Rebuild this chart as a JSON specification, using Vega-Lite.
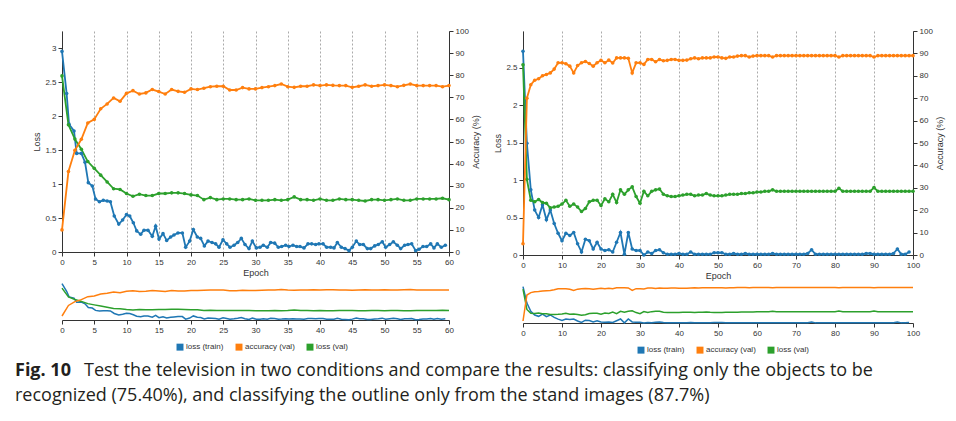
{
"$schema": "https://vega.github.io/schema/vega-lite/v6.json",
"background": "white",
"padding": {"left": 15, "top": 27, "right": 0, "bottom": 0},
"config": {
  "view": {"stroke": null},
  "font": "Liberation Sans",
  "axis": {"labelFont": "Liberation Sans", "titleFont": "Liberation Sans", "labelFontSize": 8, "titleFontSize": 9, "titleFontWeight": "normal", "domainColor": "#333", "tickColor": "#333", "labelColor": "#333", "titleColor": "#333", "tickSize": 4, "labelPadding": 2, "titlePadding": 3, "grid": false, "format": "~f", "labelOverlap": false},
  "legend": {"labelFont": "Liberation Sans"}
},
"datasets": {
"left": [
{"epoch":0,"series":"loss (train)","value":2.95},{"epoch":0.72,"series":"loss (train)","value":2.33},{"epoch":1.09,"series":"loss (train)","value":1.88},{"epoch":1.86,"series":"loss (train)","value":1.78},{"epoch":2.27,"series":"loss (train)","value":1.45},{"epoch":3.0,"series":"loss (train)","value":1.45},{"epoch":3.57,"series":"loss (train)","value":1.32},{"epoch":4.08,"series":"loss (train)","value":1.02},{"epoch":4.7,"series":"loss (train)","value":0.97},{"epoch":5.2,"series":"loss (train)","value":0.78},{"epoch":5.8,"series":"loss (train)","value":0.74},{"epoch":6.4,"series":"loss (train)","value":0.76},{"epoch":7.0,"series":"loss (train)","value":0.75},{"epoch":7.5,"series":"loss (train)","value":0.74},{"epoch":8.1,"series":"loss (train)","value":0.53},{"epoch":8.8,"series":"loss (train)","value":0.41},{"epoch":9.4,"series":"loss (train)","value":0.47},{"epoch":10.0,"series":"loss (train)","value":0.55},{"epoch":10.5,"series":"loss (train)","value":0.53},{"epoch":11.06,"series":"loss (train)","value":0.43},{"epoch":11.58,"series":"loss (train)","value":0.31},{"epoch":12.2,"series":"loss (train)","value":0.26},{"epoch":12.71,"series":"loss (train)","value":0.32},{"epoch":13.33,"series":"loss (train)","value":0.32},{"epoch":14.0,"series":"loss (train)","value":0.23},{"epoch":14.52,"series":"loss (train)","value":0.38},{"epoch":15.04,"series":"loss (train)","value":0.19},{"epoch":15.66,"series":"loss (train)","value":0.27},{"epoch":16.23,"series":"loss (train)","value":0.17},{"epoch":16.85,"series":"loss (train)","value":0.22},{"epoch":17.36,"series":"loss (train)","value":0.25},{"epoch":17.98,"series":"loss (train)","value":0.28},{"epoch":18.66,"series":"loss (train)","value":0.28},{"epoch":19.17,"series":"loss (train)","value":0.07},{"epoch":19.79,"series":"loss (train)","value":0.16},{"epoch":20.36,"series":"loss (train)","value":0.33},{"epoch":20.98,"series":"loss (train)","value":0.22},{"epoch":21.5,"series":"loss (train)","value":0.2},{"epoch":22.07,"series":"loss (train)","value":0.09},{"epoch":22.64,"series":"loss (train)","value":0.16},{"epoch":23.26,"series":"loss (train)","value":0.14},{"epoch":23.82,"series":"loss (train)","value":0.12},{"epoch":24.34,"series":"loss (train)","value":0.07},{"epoch":24.96,"series":"loss (train)","value":0.18},{"epoch":25.53,"series":"loss (train)","value":0.12},{"epoch":26.05,"series":"loss (train)","value":0.07},{"epoch":26.67,"series":"loss (train)","value":0.1},{"epoch":27.24,"series":"loss (train)","value":0.14},{"epoch":27.8,"series":"loss (train)","value":0.2},{"epoch":28.37,"series":"loss (train)","value":0.11},{"epoch":28.99,"series":"loss (train)","value":0.05},{"epoch":29.51,"series":"loss (train)","value":0.16},{"epoch":30.13,"series":"loss (train)","value":0.06},{"epoch":30.7,"series":"loss (train)","value":0.07},{"epoch":31.21,"series":"loss (train)","value":0.1},{"epoch":31.83,"series":"loss (train)","value":0.07},{"epoch":32.35,"series":"loss (train)","value":0.14},{"epoch":32.97,"series":"loss (train)","value":0.13},{"epoch":33.54,"series":"loss (train)","value":0.07},{"epoch":34.06,"series":"loss (train)","value":0.08},{"epoch":34.68,"series":"loss (train)","value":0.1},{"epoch":35.19,"series":"loss (train)","value":0.08},{"epoch":35.81,"series":"loss (train)","value":0.1},{"epoch":36.38,"series":"loss (train)","value":0.08},{"epoch":36.9,"series":"loss (train)","value":0.08},{"epoch":37.52,"series":"loss (train)","value":0.06},{"epoch":38.14,"series":"loss (train)","value":0.12},{"epoch":38.71,"series":"loss (train)","value":0.12},{"epoch":39.33,"series":"loss (train)","value":0.11},{"epoch":39.84,"series":"loss (train)","value":0.12},{"epoch":40.47,"series":"loss (train)","value":0.12},{"epoch":41.03,"series":"loss (train)","value":0.07},{"epoch":41.65,"series":"loss (train)","value":0.07},{"epoch":42.17,"series":"loss (train)","value":0.06},{"epoch":42.69,"series":"loss (train)","value":0.14},{"epoch":43.31,"series":"loss (train)","value":0.07},{"epoch":43.88,"series":"loss (train)","value":0.05},{"epoch":44.5,"series":"loss (train)","value":0.02},{"epoch":45.01,"series":"loss (train)","value":0.07},{"epoch":45.63,"series":"loss (train)","value":0.16},{"epoch":46.15,"series":"loss (train)","value":0.11},{"epoch":46.72,"series":"loss (train)","value":0.11},{"epoch":47.34,"series":"loss (train)","value":0.05},{"epoch":47.86,"series":"loss (train)","value":0.05},{"epoch":48.48,"series":"loss (train)","value":0.09},{"epoch":49.04,"series":"loss (train)","value":0.11},{"epoch":49.66,"series":"loss (train)","value":0.15},{"epoch":50.18,"series":"loss (train)","value":0.07},{"epoch":50.8,"series":"loss (train)","value":0.11},{"epoch":51.37,"series":"loss (train)","value":0.15},{"epoch":51.99,"series":"loss (train)","value":0.1},{"epoch":52.51,"series":"loss (train)","value":0.05},{"epoch":53.13,"series":"loss (train)","value":0.1},{"epoch":53.64,"series":"loss (train)","value":0.11},{"epoch":54.21,"series":"loss (train)","value":0.12},{"epoch":54.83,"series":"loss (train)","value":0.02},{"epoch":55.35,"series":"loss (train)","value":0.04},{"epoch":55.97,"series":"loss (train)","value":0.08},{"epoch":56.54,"series":"loss (train)","value":0.08},{"epoch":57.16,"series":"loss (train)","value":0.12},{"epoch":57.67,"series":"loss (train)","value":0.06},{"epoch":58.19,"series":"loss (train)","value":0.12},{"epoch":58.81,"series":"loss (train)","value":0.07},{"epoch":59.43,"series":"loss (train)","value":0.1},
{"epoch":0,"series":"loss (val)","value":2.59},{"epoch":1,"series":"loss (val)","value":1.87},{"epoch":2,"series":"loss (val)","value":1.66},{"epoch":3,"series":"loss (val)","value":1.51},{"epoch":4,"series":"loss (val)","value":1.33},{"epoch":5,"series":"loss (val)","value":1.23},{"epoch":6,"series":"loss (val)","value":1.13},{"epoch":7,"series":"loss (val)","value":1.03},{"epoch":8,"series":"loss (val)","value":0.93},{"epoch":9,"series":"loss (val)","value":0.92},{"epoch":10,"series":"loss (val)","value":0.86},{"epoch":11,"series":"loss (val)","value":0.82},{"epoch":12,"series":"loss (val)","value":0.85},{"epoch":13,"series":"loss (val)","value":0.83},{"epoch":14,"series":"loss (val)","value":0.83},{"epoch":15,"series":"loss (val)","value":0.86},{"epoch":16,"series":"loss (val)","value":0.86},{"epoch":17,"series":"loss (val)","value":0.87},{"epoch":18,"series":"loss (val)","value":0.87},{"epoch":19,"series":"loss (val)","value":0.86},{"epoch":20,"series":"loss (val)","value":0.84},{"epoch":21,"series":"loss (val)","value":0.83},{"epoch":22,"series":"loss (val)","value":0.77},{"epoch":23,"series":"loss (val)","value":0.8},{"epoch":24,"series":"loss (val)","value":0.77},{"epoch":25,"series":"loss (val)","value":0.78},{"epoch":26,"series":"loss (val)","value":0.78},{"epoch":27,"series":"loss (val)","value":0.77},{"epoch":28,"series":"loss (val)","value":0.77},{"epoch":29,"series":"loss (val)","value":0.78},{"epoch":30,"series":"loss (val)","value":0.76},{"epoch":31,"series":"loss (val)","value":0.76},{"epoch":32,"series":"loss (val)","value":0.76},{"epoch":33,"series":"loss (val)","value":0.77},{"epoch":34,"series":"loss (val)","value":0.76},{"epoch":35,"series":"loss (val)","value":0.77},{"epoch":36,"series":"loss (val)","value":0.81},{"epoch":37,"series":"loss (val)","value":0.77},{"epoch":38,"series":"loss (val)","value":0.77},{"epoch":39,"series":"loss (val)","value":0.76},{"epoch":40,"series":"loss (val)","value":0.78},{"epoch":41,"series":"loss (val)","value":0.76},{"epoch":42,"series":"loss (val)","value":0.76},{"epoch":43,"series":"loss (val)","value":0.78},{"epoch":44,"series":"loss (val)","value":0.77},{"epoch":45,"series":"loss (val)","value":0.77},{"epoch":46,"series":"loss (val)","value":0.76},{"epoch":47,"series":"loss (val)","value":0.75},{"epoch":48,"series":"loss (val)","value":0.77},{"epoch":49,"series":"loss (val)","value":0.77},{"epoch":50,"series":"loss (val)","value":0.76},{"epoch":51,"series":"loss (val)","value":0.77},{"epoch":52,"series":"loss (val)","value":0.78},{"epoch":53,"series":"loss (val)","value":0.76},{"epoch":54,"series":"loss (val)","value":0.76},{"epoch":55,"series":"loss (val)","value":0.78},{"epoch":56,"series":"loss (val)","value":0.78},{"epoch":57,"series":"loss (val)","value":0.78},{"epoch":58,"series":"loss (val)","value":0.78},{"epoch":59,"series":"loss (val)","value":0.79},{"epoch":60,"series":"loss (val)","value":0.77},
{"epoch":0,"series":"accuracy (val)","value":10},{"epoch":1,"series":"accuracy (val)","value":36.4},{"epoch":2,"series":"accuracy (val)","value":46},{"epoch":3,"series":"accuracy (val)","value":51},{"epoch":4,"series":"accuracy (val)","value":58.4},{"epoch":5,"series":"accuracy (val)","value":60},{"epoch":6,"series":"accuracy (val)","value":64.8},{"epoch":7,"series":"accuracy (val)","value":67},{"epoch":8,"series":"accuracy (val)","value":69.7},{"epoch":9,"series":"accuracy (val)","value":68.2},{"epoch":10,"series":"accuracy (val)","value":71.8},{"epoch":11,"series":"accuracy (val)","value":73},{"epoch":12,"series":"accuracy (val)","value":71.5},{"epoch":13,"series":"accuracy (val)","value":72},{"epoch":14,"series":"accuracy (val)","value":73.5},{"epoch":15,"series":"accuracy (val)","value":72.6},{"epoch":16,"series":"accuracy (val)","value":71.5},{"epoch":17,"series":"accuracy (val)","value":73.5},{"epoch":18,"series":"accuracy (val)","value":72.7},{"epoch":19,"series":"accuracy (val)","value":72.3},{"epoch":20,"series":"accuracy (val)","value":73.8},{"epoch":21,"series":"accuracy (val)","value":73.5},{"epoch":22,"series":"accuracy (val)","value":74.1},{"epoch":23,"series":"accuracy (val)","value":74.8},{"epoch":24,"series":"accuracy (val)","value":75},{"epoch":25,"series":"accuracy (val)","value":75},{"epoch":26,"series":"accuracy (val)","value":73.3},{"epoch":27,"series":"accuracy (val)","value":73.3},{"epoch":28,"series":"accuracy (val)","value":74.4},{"epoch":29,"series":"accuracy (val)","value":73.8},{"epoch":30,"series":"accuracy (val)","value":73.8},{"epoch":31,"series":"accuracy (val)","value":74.4},{"epoch":32,"series":"accuracy (val)","value":74.8},{"epoch":33,"series":"accuracy (val)","value":75.3},{"epoch":34,"series":"accuracy (val)","value":76},{"epoch":35,"series":"accuracy (val)","value":74.8},{"epoch":36,"series":"accuracy (val)","value":74.5},{"epoch":37,"series":"accuracy (val)","value":75},{"epoch":38,"series":"accuracy (val)","value":75},{"epoch":39,"series":"accuracy (val)","value":75.6},{"epoch":40,"series":"accuracy (val)","value":75.3},{"epoch":41,"series":"accuracy (val)","value":75.6},{"epoch":42,"series":"accuracy (val)","value":75.4},{"epoch":43,"series":"accuracy (val)","value":75.3},{"epoch":44,"series":"accuracy (val)","value":75.3},{"epoch":45,"series":"accuracy (val)","value":74.5},{"epoch":46,"series":"accuracy (val)","value":75},{"epoch":47,"series":"accuracy (val)","value":75.6},{"epoch":48,"series":"accuracy (val)","value":75},{"epoch":49,"series":"accuracy (val)","value":75.3},{"epoch":50,"series":"accuracy (val)","value":75.6},{"epoch":51,"series":"accuracy (val)","value":75.3},{"epoch":52,"series":"accuracy (val)","value":74.8},{"epoch":53,"series":"accuracy (val)","value":75.4},{"epoch":54,"series":"accuracy (val)","value":76},{"epoch":55,"series":"accuracy (val)","value":75.3},{"epoch":56,"series":"accuracy (val)","value":75.3},{"epoch":57,"series":"accuracy (val)","value":75.3},{"epoch":58,"series":"accuracy (val)","value":75.3},{"epoch":59,"series":"accuracy (val)","value":74.8},{"epoch":60,"series":"accuracy (val)","value":75.3}
],
"right": [
{"epoch":0,"series":"loss (train)","value":2.72},{"epoch":1,"series":"loss (train)","value":1.49},{"epoch":2,"series":"loss (train)","value":0.87},{"epoch":3,"series":"loss (train)","value":0.6},{"epoch":4,"series":"loss (train)","value":0.5},{"epoch":5,"series":"loss (train)","value":0.67},{"epoch":6,"series":"loss (train)","value":0.47},{"epoch":7,"series":"loss (train)","value":0.6},{"epoch":8,"series":"loss (train)","value":0.42},{"epoch":9,"series":"loss (train)","value":0.29},{"epoch":10,"series":"loss (train)","value":0.19},{"epoch":11,"series":"loss (train)","value":0.29},{"epoch":12,"series":"loss (train)","value":0.26},{"epoch":13,"series":"loss (train)","value":0.3},{"epoch":14,"series":"loss (train)","value":0.15},{"epoch":15,"series":"loss (train)","value":0.04},{"epoch":16,"series":"loss (train)","value":0.21},{"epoch":17,"series":"loss (train)","value":0.19},{"epoch":18,"series":"loss (train)","value":0.08},{"epoch":19,"series":"loss (train)","value":0.17},{"epoch":20,"series":"loss (train)","value":0.08},{"epoch":21,"series":"loss (train)","value":0.06},{"epoch":22,"series":"loss (train)","value":0.07},{"epoch":23,"series":"loss (train)","value":0.04},{"epoch":24,"series":"loss (train)","value":0.17},{"epoch":25,"series":"loss (train)","value":0.3},{"epoch":26,"series":"loss (train)","value":0.01},{"epoch":27,"series":"loss (train)","value":0.3},{"epoch":28,"series":"loss (train)","value":0.08},{"epoch":29,"series":"loss (train)","value":0.06},{"epoch":30,"series":"loss (train)","value":0.06},{"epoch":31,"series":"loss (train)","value":0.0},{"epoch":32,"series":"loss (train)","value":0.04},{"epoch":33,"series":"loss (train)","value":0.02},{"epoch":34,"series":"loss (train)","value":0.06},{"epoch":35,"series":"loss (train)","value":0.07},{"epoch":36,"series":"loss (train)","value":0.03},{"epoch":37,"series":"loss (train)","value":0.01},{"epoch":38,"series":"loss (train)","value":0.01},{"epoch":39,"series":"loss (train)","value":0.01},{"epoch":40,"series":"loss (train)","value":0.02},{"epoch":41,"series":"loss (train)","value":0.01},{"epoch":42,"series":"loss (train)","value":0.01},{"epoch":43,"series":"loss (train)","value":0.04},{"epoch":44,"series":"loss (train)","value":0.01},{"epoch":45,"series":"loss (train)","value":0.01},{"epoch":46,"series":"loss (train)","value":0.01},{"epoch":47,"series":"loss (train)","value":0.01},{"epoch":48,"series":"loss (train)","value":0.01},{"epoch":49,"series":"loss (train)","value":0.03},{"epoch":50,"series":"loss (train)","value":0.03},{"epoch":51,"series":"loss (train)","value":0.03},{"epoch":52,"series":"loss (train)","value":0.01},{"epoch":53,"series":"loss (train)","value":0.01},{"epoch":54,"series":"loss (train)","value":0.02},{"epoch":55,"series":"loss (train)","value":0.01},{"epoch":56,"series":"loss (train)","value":0.01},{"epoch":57,"series":"loss (train)","value":0.02},{"epoch":58,"series":"loss (train)","value":0.01},{"epoch":59,"series":"loss (train)","value":0.01},{"epoch":60,"series":"loss (train)","value":0.01},{"epoch":61,"series":"loss (train)","value":0.01},{"epoch":62,"series":"loss (train)","value":0.01},{"epoch":63,"series":"loss (train)","value":0.01},{"epoch":64,"series":"loss (train)","value":0.02},{"epoch":65,"series":"loss (train)","value":0.01},{"epoch":66,"series":"loss (train)","value":0.01},{"epoch":67,"series":"loss (train)","value":0.01},{"epoch":68,"series":"loss (train)","value":0.01},{"epoch":69,"series":"loss (train)","value":0.01},{"epoch":70,"series":"loss (train)","value":0.01},{"epoch":71,"series":"loss (train)","value":0.01},{"epoch":72,"series":"loss (train)","value":0.01},{"epoch":73,"series":"loss (train)","value":0.02},{"epoch":74,"series":"loss (train)","value":0.07},{"epoch":75,"series":"loss (train)","value":0.01},{"epoch":76,"series":"loss (train)","value":0.01},{"epoch":77,"series":"loss (train)","value":0.01},{"epoch":78,"series":"loss (train)","value":0.01},{"epoch":79,"series":"loss (train)","value":0.01},{"epoch":80,"series":"loss (train)","value":0.01},{"epoch":81,"series":"loss (train)","value":0.01},{"epoch":82,"series":"loss (train)","value":0.01},{"epoch":83,"series":"loss (train)","value":0.01},{"epoch":84,"series":"loss (train)","value":0.01},{"epoch":85,"series":"loss (train)","value":0.01},{"epoch":86,"series":"loss (train)","value":0.01},{"epoch":87,"series":"loss (train)","value":0.01},{"epoch":88,"series":"loss (train)","value":0.02},{"epoch":89,"series":"loss (train)","value":0.02},{"epoch":90,"series":"loss (train)","value":0.01},{"epoch":91,"series":"loss (train)","value":0.01},{"epoch":92,"series":"loss (train)","value":0.01},{"epoch":93,"series":"loss (train)","value":0.01},{"epoch":94,"series":"loss (train)","value":0.01},{"epoch":95,"series":"loss (train)","value":0.02},{"epoch":96,"series":"loss (train)","value":0.08},{"epoch":97,"series":"loss (train)","value":0.01},{"epoch":98,"series":"loss (train)","value":0.01},{"epoch":99,"series":"loss (train)","value":0.04},
{"epoch":0,"series":"loss (val)","value":2.54},{"epoch":1,"series":"loss (val)","value":1.01},{"epoch":2,"series":"loss (val)","value":0.73},{"epoch":3,"series":"loss (val)","value":0.71},{"epoch":4,"series":"loss (val)","value":0.74},{"epoch":5,"series":"loss (val)","value":0.7},{"epoch":6,"series":"loss (val)","value":0.69},{"epoch":7,"series":"loss (val)","value":0.63},{"epoch":8,"series":"loss (val)","value":0.64},{"epoch":9,"series":"loss (val)","value":0.65},{"epoch":10,"series":"loss (val)","value":0.68},{"epoch":11,"series":"loss (val)","value":0.73},{"epoch":12,"series":"loss (val)","value":0.65},{"epoch":13,"series":"loss (val)","value":0.68},{"epoch":14,"series":"loss (val)","value":0.64},{"epoch":15,"series":"loss (val)","value":0.58},{"epoch":16,"series":"loss (val)","value":0.62},{"epoch":17,"series":"loss (val)","value":0.71},{"epoch":18,"series":"loss (val)","value":0.73},{"epoch":19,"series":"loss (val)","value":0.73},{"epoch":20,"series":"loss (val)","value":0.66},{"epoch":21,"series":"loss (val)","value":0.75},{"epoch":22,"series":"loss (val)","value":0.71},{"epoch":23,"series":"loss (val)","value":0.81},{"epoch":24,"series":"loss (val)","value":0.7},{"epoch":25,"series":"loss (val)","value":0.87},{"epoch":26,"series":"loss (val)","value":0.81},{"epoch":27,"series":"loss (val)","value":0.87},{"epoch":28,"series":"loss (val)","value":0.91},{"epoch":29,"series":"loss (val)","value":0.78},{"epoch":30,"series":"loss (val)","value":0.69},{"epoch":31,"series":"loss (val)","value":0.85},{"epoch":32,"series":"loss (val)","value":0.79},{"epoch":33,"series":"loss (val)","value":0.85},{"epoch":34,"series":"loss (val)","value":0.87},{"epoch":35,"series":"loss (val)","value":0.88},{"epoch":36,"series":"loss (val)","value":0.81},{"epoch":37,"series":"loss (val)","value":0.79},{"epoch":38,"series":"loss (val)","value":0.78},{"epoch":39,"series":"loss (val)","value":0.78},{"epoch":40,"series":"loss (val)","value":0.79},{"epoch":41,"series":"loss (val)","value":0.8},{"epoch":42,"series":"loss (val)","value":0.81},{"epoch":43,"series":"loss (val)","value":0.81},{"epoch":44,"series":"loss (val)","value":0.79},{"epoch":45,"series":"loss (val)","value":0.8},{"epoch":46,"series":"loss (val)","value":0.8},{"epoch":47,"series":"loss (val)","value":0.82},{"epoch":48,"series":"loss (val)","value":0.8},{"epoch":49,"series":"loss (val)","value":0.79},{"epoch":50,"series":"loss (val)","value":0.79},{"epoch":51,"series":"loss (val)","value":0.79},{"epoch":52,"series":"loss (val)","value":0.8},{"epoch":53,"series":"loss (val)","value":0.81},{"epoch":54,"series":"loss (val)","value":0.81},{"epoch":55,"series":"loss (val)","value":0.81},{"epoch":56,"series":"loss (val)","value":0.82},{"epoch":57,"series":"loss (val)","value":0.82},{"epoch":58,"series":"loss (val)","value":0.83},{"epoch":59,"series":"loss (val)","value":0.83},{"epoch":60,"series":"loss (val)","value":0.84},{"epoch":61,"series":"loss (val)","value":0.84},{"epoch":62,"series":"loss (val)","value":0.85},{"epoch":63,"series":"loss (val)","value":0.85},{"epoch":64,"series":"loss (val)","value":0.87},{"epoch":65,"series":"loss (val)","value":0.85},{"epoch":66,"series":"loss (val)","value":0.85},{"epoch":67,"series":"loss (val)","value":0.85},{"epoch":68,"series":"loss (val)","value":0.85},{"epoch":69,"series":"loss (val)","value":0.85},{"epoch":70,"series":"loss (val)","value":0.85},{"epoch":71,"series":"loss (val)","value":0.85},{"epoch":72,"series":"loss (val)","value":0.85},{"epoch":73,"series":"loss (val)","value":0.85},{"epoch":74,"series":"loss (val)","value":0.85},{"epoch":75,"series":"loss (val)","value":0.85},{"epoch":76,"series":"loss (val)","value":0.85},{"epoch":77,"series":"loss (val)","value":0.85},{"epoch":78,"series":"loss (val)","value":0.85},{"epoch":79,"series":"loss (val)","value":0.85},{"epoch":80,"series":"loss (val)","value":0.85},{"epoch":81,"series":"loss (val)","value":0.89},{"epoch":82,"series":"loss (val)","value":0.85},{"epoch":83,"series":"loss (val)","value":0.85},{"epoch":84,"series":"loss (val)","value":0.85},{"epoch":85,"series":"loss (val)","value":0.85},{"epoch":86,"series":"loss (val)","value":0.85},{"epoch":87,"series":"loss (val)","value":0.85},{"epoch":88,"series":"loss (val)","value":0.85},{"epoch":89,"series":"loss (val)","value":0.85},{"epoch":90,"series":"loss (val)","value":0.9},{"epoch":91,"series":"loss (val)","value":0.85},{"epoch":92,"series":"loss (val)","value":0.85},{"epoch":93,"series":"loss (val)","value":0.85},{"epoch":94,"series":"loss (val)","value":0.85},{"epoch":95,"series":"loss (val)","value":0.85},{"epoch":96,"series":"loss (val)","value":0.85},{"epoch":97,"series":"loss (val)","value":0.85},{"epoch":98,"series":"loss (val)","value":0.85},{"epoch":99,"series":"loss (val)","value":0.85},{"epoch":100,"series":"loss (val)","value":0.85},
{"epoch":0,"series":"accuracy (val)","value":5},{"epoch":1,"series":"accuracy (val)","value":70},{"epoch":2,"series":"accuracy (val)","value":76},{"epoch":3,"series":"accuracy (val)","value":78},{"epoch":4,"series":"accuracy (val)","value":78.7},{"epoch":5,"series":"accuracy (val)","value":80},{"epoch":6,"series":"accuracy (val)","value":80.6},{"epoch":7,"series":"accuracy (val)","value":81.3},{"epoch":8,"series":"accuracy (val)","value":83},{"epoch":9,"series":"accuracy (val)","value":85.8},{"epoch":10,"series":"accuracy (val)","value":85.8},{"epoch":11,"series":"accuracy (val)","value":85.4},{"epoch":12,"series":"accuracy (val)","value":84.3},{"epoch":13,"series":"accuracy (val)","value":81.3},{"epoch":14,"series":"accuracy (val)","value":84.6},{"epoch":15,"series":"accuracy (val)","value":85.8},{"epoch":16,"series":"accuracy (val)","value":86.4},{"epoch":17,"series":"accuracy (val)","value":85.5},{"epoch":18,"series":"accuracy (val)","value":84.3},{"epoch":19,"series":"accuracy (val)","value":85.8},{"epoch":20,"series":"accuracy (val)","value":86.9},{"epoch":21,"series":"accuracy (val)","value":85.8},{"epoch":22,"series":"accuracy (val)","value":87},{"epoch":23,"series":"accuracy (val)","value":85.7},{"epoch":24,"series":"accuracy (val)","value":88},{"epoch":25,"series":"accuracy (val)","value":88},{"epoch":26,"series":"accuracy (val)","value":88},{"epoch":27,"series":"accuracy (val)","value":87.8},{"epoch":28,"series":"accuracy (val)","value":81.3},{"epoch":29,"series":"accuracy (val)","value":85.8},{"epoch":30,"series":"accuracy (val)","value":85.8},{"epoch":31,"series":"accuracy (val)","value":85.1},{"epoch":32,"series":"accuracy (val)","value":87.3},{"epoch":33,"series":"accuracy (val)","value":87.3},{"epoch":34,"series":"accuracy (val)","value":86.3},{"epoch":35,"series":"accuracy (val)","value":87.3},{"epoch":36,"series":"accuracy (val)","value":86.7},{"epoch":37,"series":"accuracy (val)","value":86.9},{"epoch":38,"series":"accuracy (val)","value":87.3},{"epoch":39,"series":"accuracy (val)","value":87.3},{"epoch":40,"series":"accuracy (val)","value":86.9},{"epoch":41,"series":"accuracy (val)","value":86.9},{"epoch":42,"series":"accuracy (val)","value":87},{"epoch":43,"series":"accuracy (val)","value":87.6},{"epoch":44,"series":"accuracy (val)","value":88},{"epoch":45,"series":"accuracy (val)","value":87.6},{"epoch":46,"series":"accuracy (val)","value":88},{"epoch":47,"series":"accuracy (val)","value":88},{"epoch":48,"series":"accuracy (val)","value":88},{"epoch":49,"series":"accuracy (val)","value":88.4},{"epoch":50,"series":"accuracy (val)","value":88.4},{"epoch":51,"series":"accuracy (val)","value":88},{"epoch":52,"series":"accuracy (val)","value":87.8},{"epoch":53,"series":"accuracy (val)","value":88.4},{"epoch":54,"series":"accuracy (val)","value":88.4},{"epoch":55,"series":"accuracy (val)","value":88.8},{"epoch":56,"series":"accuracy (val)","value":89},{"epoch":57,"series":"accuracy (val)","value":89},{"epoch":58,"series":"accuracy (val)","value":88.4},{"epoch":59,"series":"accuracy (val)","value":88.8},{"epoch":60,"series":"accuracy (val)","value":89},{"epoch":61,"series":"accuracy (val)","value":89},{"epoch":62,"series":"accuracy (val)","value":89},{"epoch":63,"series":"accuracy (val)","value":89},{"epoch":64,"series":"accuracy (val)","value":88.4},{"epoch":65,"series":"accuracy (val)","value":89},{"epoch":66,"series":"accuracy (val)","value":89},{"epoch":67,"series":"accuracy (val)","value":89},{"epoch":68,"series":"accuracy (val)","value":89},{"epoch":69,"series":"accuracy (val)","value":89},{"epoch":70,"series":"accuracy (val)","value":89},{"epoch":71,"series":"accuracy (val)","value":89},{"epoch":72,"series":"accuracy (val)","value":89},{"epoch":73,"series":"accuracy (val)","value":89},{"epoch":74,"series":"accuracy (val)","value":89},{"epoch":75,"series":"accuracy (val)","value":89},{"epoch":76,"series":"accuracy (val)","value":89},{"epoch":77,"series":"accuracy (val)","value":89},{"epoch":78,"series":"accuracy (val)","value":89},{"epoch":79,"series":"accuracy (val)","value":89},{"epoch":80,"series":"accuracy (val)","value":89},{"epoch":81,"series":"accuracy (val)","value":88.4},{"epoch":82,"series":"accuracy (val)","value":89},{"epoch":83,"series":"accuracy (val)","value":89},{"epoch":84,"series":"accuracy (val)","value":89},{"epoch":85,"series":"accuracy (val)","value":89},{"epoch":86,"series":"accuracy (val)","value":89},{"epoch":87,"series":"accuracy (val)","value":89},{"epoch":88,"series":"accuracy (val)","value":89},{"epoch":89,"series":"accuracy (val)","value":89},{"epoch":90,"series":"accuracy (val)","value":88.4},{"epoch":91,"series":"accuracy (val)","value":89},{"epoch":92,"series":"accuracy (val)","value":89},{"epoch":93,"series":"accuracy (val)","value":89},{"epoch":94,"series":"accuracy (val)","value":89},{"epoch":95,"series":"accuracy (val)","value":89},{"epoch":96,"series":"accuracy (val)","value":89},{"epoch":97,"series":"accuracy (val)","value":89},{"epoch":98,"series":"accuracy (val)","value":89},{"epoch":99,"series":"accuracy (val)","value":89},{"epoch":100,"series":"accuracy (val)","value":89}
]
},
"vconcat": [
{
"hconcat": [
{
"vconcat": [
{
"width": 387, "height": 221,
"data": {"name": "left"},
"encoding": {"x": {"field": "epoch", "type": "quantitative", "scale": {"domain": [0, 60], "nice": false}, "axis": {"values": [0,5,10,15,20,25,30,35,40,45,50,55,60], "title": "Epoch", "labelFlush": false, "grid": true, "gridDash": [2,2], "gridColor": "#aaa", "titlePadding": 2}}},
"layer": [
{"transform": [{"filter": "datum.series != 'accuracy (val)'"}],
 "mark": {"type": "line", "strokeWidth": 1.8, "point": {"filled": true, "size": 13}},
 "encoding": {
  "y": {"field": "value", "type": "quantitative", "scale": {"domain": [0, 3.25], "nice": false}, "axis": {"values": [0,0.5,1,1.5,2,2.5,3], "title": "Loss"}},
  "color": {"field": "series", "type": "nominal", "scale": {"domain": ["loss (train)", "accuracy (val)", "loss (val)"], "range": ["#1f77b4", "#ff7f0e", "#2ca02c"]}, "legend": null}}},
{"transform": [{"filter": "datum.series == 'accuracy (val)'"}],
 "mark": {"type": "line", "strokeWidth": 1.8, "point": {"filled": true, "size": 13}},
 "encoding": {
  "y": {"field": "value", "type": "quantitative", "scale": {"domain": [0, 100], "nice": false}, "axis": {"orient": "right", "values": [0,10,20,30,40,50,60,70,80,90,100], "title": "Accuracy (%)", "titleAngle": 270, "titleBaseline": "top"}},
  "color": {"field": "series", "type": "nominal", "scale": {"domain": ["loss (train)", "accuracy (val)", "loss (val)"], "range": ["#1f77b4", "#ff7f0e", "#2ca02c"]}, "legend": null}}}
],
"resolve": {"scale": {"y": "independent"}}
},
{
"width": 387, "height": 40,
"data": {"name": "left"},
"encoding": {"x": {"field": "epoch", "type": "quantitative", "scale": {"domain": [0, 60], "nice": false}, "axis": {"values": [0,5,10,15,20,25,30,35,40,45,50,55,60], "title": null, "labelFlush": false}}},
"layer": [
{"transform": [{"filter": "datum.series != 'accuracy (val)'"}],
 "mark": {"type": "line", "strokeWidth": 1.5},
 "encoding": {
  "y": {"field": "value", "type": "quantitative", "scale": {"domain": [0, 3.25], "nice": false}, "axis": null},
  "color": {"field": "series", "type": "nominal", "scale": {"domain": ["loss (train)", "accuracy (val)", "loss (val)"], "range": ["#1f77b4", "#ff7f0e", "#2ca02c"]},
   "legend": {"orient": "none", "legendX": 114, "legendY": 63, "direction": "horizontal", "title": null, "symbolType": "square", "symbolSize": 12, "symbolStrokeWidth": 3.5, "labelFontSize": 8, "labelColor": "#333", "columnPadding": 6, "labelOffset": 2}}}},
{"transform": [{"filter": "datum.series == 'accuracy (val)'"}],
 "mark": {"type": "line", "strokeWidth": 1.5},
 "encoding": {
  "y": {"field": "value", "type": "quantitative", "scale": {"domain": [0, 100], "nice": false}, "axis": null},
  "color": {"field": "series", "type": "nominal", "scale": {"domain": ["loss (train)", "accuracy (val)", "loss (val)"], "range": ["#1f77b4", "#ff7f0e", "#2ca02c"]}}}}
],
"resolve": {"scale": {"y": "independent"}}
}
],
"spacing": 28,
"bounds": "flush",
"resolve": {"scale": {"color": "independent"}, "legend": {"color": "independent"}}
},
{
"vconcat": [
{
"width": 390, "height": 224,
"data": {"name": "right"},
"encoding": {"x": {"field": "epoch", "type": "quantitative", "scale": {"domain": [0, 100], "nice": false}, "axis": {"values": [0,10,20,30,40,50,60,70,80,90,100], "title": "Epoch", "labelFlush": false, "grid": true, "gridDash": [2,2], "gridColor": "#aaa", "titlePadding": 2}}},
"layer": [
{"transform": [{"filter": "datum.series != 'accuracy (val)'"}],
 "mark": {"type": "line", "strokeWidth": 1.8, "point": {"filled": true, "size": 13}},
 "encoding": {
  "y": {"field": "value", "type": "quantitative", "scale": {"domain": [0, 2.99], "nice": false}, "axis": {"values": [0,0.5,1,1.5,2,2.5], "title": "Loss"}},
  "color": {"field": "series", "type": "nominal", "scale": {"domain": ["loss (train)", "accuracy (val)", "loss (val)"], "range": ["#1f77b4", "#ff7f0e", "#2ca02c"]}, "legend": null}}},
{"transform": [{"filter": "datum.series == 'accuracy (val)'"}],
 "mark": {"type": "line", "strokeWidth": 1.8, "point": {"filled": true, "size": 13}},
 "encoding": {
  "y": {"field": "value", "type": "quantitative", "scale": {"domain": [0, 100], "nice": false}, "axis": {"orient": "right", "values": [0,10,20,30,40,50,60,70,80,90,100], "title": "Accuracy (%)", "titleAngle": 270, "titleBaseline": "top"}},
  "color": {"field": "series", "type": "nominal", "scale": {"domain": ["loss (train)", "accuracy (val)", "loss (val)"], "range": ["#1f77b4", "#ff7f0e", "#2ca02c"]}, "legend": null}}}
],
"resolve": {"scale": {"y": "independent"}}
},
{
"width": 390, "height": 40,
"data": {"name": "right"},
"encoding": {"x": {"field": "epoch", "type": "quantitative", "scale": {"domain": [0, 100], "nice": false}, "axis": {"values": [0,10,20,30,40,50,60,70,80,90,100], "title": null, "labelFlush": false}}},
"layer": [
{"transform": [{"filter": "datum.series != 'accuracy (val)'"}],
 "mark": {"type": "line", "strokeWidth": 1.5},
 "encoding": {
  "y": {"field": "value", "type": "quantitative", "scale": {"domain": [0, 2.99], "nice": false}, "axis": null},
  "color": {"field": "series", "type": "nominal", "scale": {"domain": ["loss (train)", "accuracy (val)", "loss (val)"], "range": ["#1f77b4", "#ff7f0e", "#2ca02c"]},
   "legend": {"orient": "none", "legendX": 114, "legendY": 63, "direction": "horizontal", "title": null, "symbolType": "square", "symbolSize": 12, "symbolStrokeWidth": 3.5, "labelFontSize": 8, "labelColor": "#333", "columnPadding": 6, "labelOffset": 2}}}},
{"transform": [{"filter": "datum.series == 'accuracy (val)'"}],
 "mark": {"type": "line", "strokeWidth": 1.5},
 "encoding": {
  "y": {"field": "value", "type": "quantitative", "scale": {"domain": [0, 100], "nice": false}, "axis": null},
  "color": {"field": "series", "type": "nominal", "scale": {"domain": ["loss (train)", "accuracy (val)", "loss (val)"], "range": ["#1f77b4", "#ff7f0e", "#2ca02c"]}}}}
],
"resolve": {"scale": {"y": "independent"}}
}
],
"spacing": 28,
"bounds": "flush",
"resolve": {"scale": {"color": "independent"}, "legend": {"color": "independent"}}
}
],
"spacing": 12,
"resolve": {"scale": {"color": "independent"}, "legend": {"color": "independent"}}
},
{
"width": 900, "height": 44,
"layer": [
{"data": {"values": [{"caption": "Fig. 10"}]}, "mark": {"type": "text", "align": "left", "baseline": "alphabetic", "x": -47, "y": 17, "font": "Open Sans", "fontSize": 18, "fontWeight": "bold", "color": "#231f20"}, "encoding": {"text": {"field": "caption"}}},
{"data": {"values": [{"caption": "Test the television in two conditions and compare the results: classifying only the objects to be"}]}, "mark": {"type": "text", "align": "left", "baseline": "alphabetic", "x": 22, "y": 17, "font": "Open Sans", "fontSize": 18, "color": "#231f20"}, "encoding": {"text": {"field": "caption"}}},
{"data": {"values": [{"caption": "recognized (75.40%), and classifying the outline only from the stand images (87.7%)"}]}, "mark": {"type": "text", "align": "left", "baseline": "alphabetic", "x": -47, "y": 42, "font": "Open Sans", "fontSize": 18, "color": "#231f20"}, "encoding": {"text": {"field": "caption"}}}
]
}
],
"spacing": 0
}
